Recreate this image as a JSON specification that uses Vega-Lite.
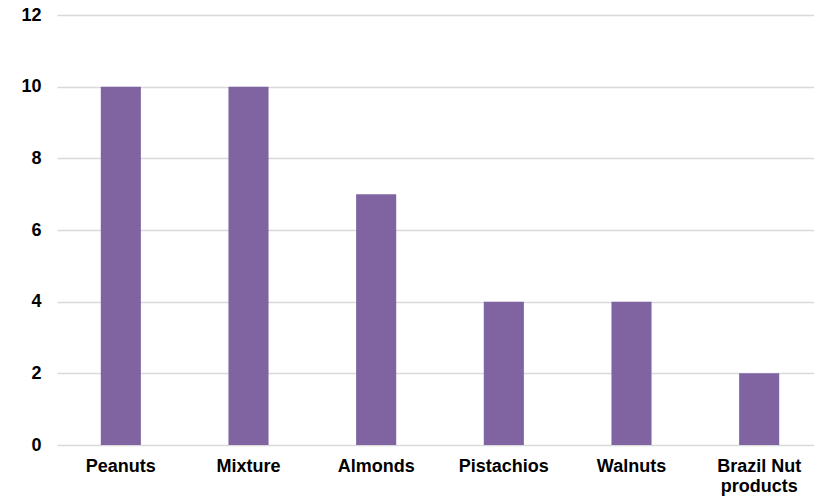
{
  "$schema": "https://vega.github.io/schema/vega-lite/v6.json",
  "autosize": "none",
  "padding": {"left": 57, "top": 15, "right": 2, "bottom": 55},
  "width": 755,
  "height": 430,
  "background": "white",
  "data": {
    "values": [
      {"nut": "Peanuts", "count": 10},
      {"nut": "Mixture", "count": 10},
      {"nut": "Almonds", "count": 7},
      {"nut": "Pistachios", "count": 4},
      {"nut": "Walnuts", "count": 4},
      {"nut": "Brazil Nut products", "count": 2}
    ]
  },
  "mark": {"type": "bar", "color": "#8064A2"},
  "encoding": {
    "x": {
      "field": "nut",
      "type": "nominal",
      "sort": null,
      "scale": {"paddingInner": 0.686, "paddingOuter": 0.343, "range": [0, 766]},
      "axis": {
        "title": null,
        "labelAngle": 0,
        "labelFont": "Liberation Sans",
        "labelFontSize": 18,
        "labelFontWeight": "bold",
        "labelColor": "#000000",
        "labelPadding": 12,
        "labelLineHeight": 20,
        "labelExpr": "datum.value == 'Brazil Nut products' ? ['Brazil Nut', 'products'] : datum.value",
        "ticks": false,
        "domain": false
      }
    },
    "y": {
      "field": "count",
      "type": "quantitative",
      "scale": {"domain": [0, 12]},
      "axis": {
        "title": null,
        "values": [0, 2, 4, 6, 8, 10, 12],
        "labelFont": "Liberation Sans",
        "labelFontSize": 18,
        "labelFontWeight": "bold",
        "labelColor": "#000000",
        "labelPadding": 16,
        "ticks": false,
        "domain": false,
        "grid": true,
        "gridColor": "#d9d9d9",
        "gridWidth": 1.5
      }
    }
  },
  "config": {"view": {"stroke": null}}
}
